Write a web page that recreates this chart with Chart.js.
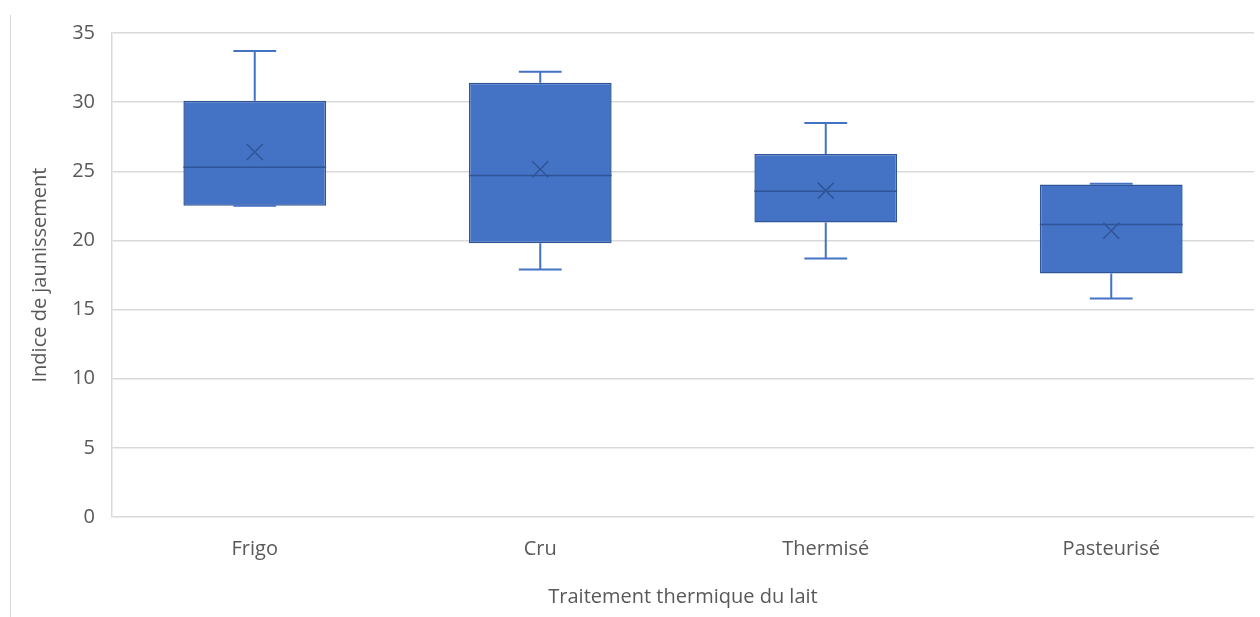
<!DOCTYPE html>
<html>
<head>
<meta charset="utf-8">
<script src="https://cdn.jsdelivr.net/npm/chart.js@4/dist/chart.umd.min.js"></script>
<style>
  html, body { margin: 0; padding: 0; background: #fff; }
  #wrap { width: 1260px; height: 617px; position: relative; }
</style>
</head>
<body>
<div id="wrap"><canvas id="myChart" width="1260" height="617"></canvas></div>
<script>
'use strict'

const categories = ['Frigo', 'Cru', 'Thermisé', 'Pasteurisé'];
const minValues = [22.5, 17.9, 18.7, 15.8];
const q1Values = [22.5, 19.8, 21.3, 17.6];
const medianValues = [25.3, 24.7, 23.55, 21.15];
const q3Values = [30.1, 31.4, 26.25, 24.05];
const maxValues = [33.7, 32.2, 28.5, 24.1];
const meanValues = [26.4, 25.15, 23.6, 20.7];

const boxFill = '#4472C4';
const darkBlue = '#2F5597';
const fontName = '"Open Sans", Lato, sans-serif';

// whiskers, median line and mean cross, placed with the chart scales
const boxExtras = {
  id: 'boxExtras',
  afterDatasetsDraw(chart) {
    const ctx = chart.ctx;
    const x = chart.scales.x;
    const y = chart.scales.y;
    const meta = chart.getDatasetMeta(0);
    ctx.save();
    for (let i = 0; i < categories.length; i++) {
      const bar = meta.data[i];
      const cx = x.getPixelForValue(i);
      const half = bar.width / 2;
      const cap = bar.width * 0.15;
      const yMin = y.getPixelForValue(minValues[i]);
      const yQ1 = y.getPixelForValue(q1Values[i]);
      const yQ3 = y.getPixelForValue(q3Values[i]);
      const yMax = y.getPixelForValue(maxValues[i]);
      const yMed = y.getPixelForValue(medianValues[i]);
      const yMean = y.getPixelForValue(meanValues[i]);

      ctx.strokeStyle = boxFill;
      ctx.lineWidth = 2;
      ctx.beginPath();
      ctx.moveTo(cx, yQ3); ctx.lineTo(cx, yMax);
      ctx.moveTo(cx - cap, yMax); ctx.lineTo(cx + cap, yMax);
      ctx.moveTo(cx, yQ1); ctx.lineTo(cx, yMin);
      ctx.moveTo(cx - cap, yMin); ctx.lineTo(cx + cap, yMin);
      ctx.stroke();

      ctx.strokeStyle = darkBlue;
      ctx.lineWidth = 1.5;
      ctx.beginPath();
      ctx.moveTo(cx - half, yMed); ctx.lineTo(cx + half, yMed);
      ctx.stroke();

      const s = 8;
      ctx.lineWidth = 1.5;
      ctx.beginPath();
      ctx.moveTo(cx - s, yMean - s); ctx.lineTo(cx + s, yMean + s);
      ctx.moveTo(cx + s, yMean - s); ctx.lineTo(cx - s, yMean + s);
      ctx.stroke();
    }
    // outer frame edge on the left
    ctx.strokeStyle = '#d9d9d9';
    ctx.lineWidth = 1;
    ctx.beginPath();
    ctx.moveTo(10.5, 15); ctx.lineTo(10.5, 617);
    ctx.stroke();
    ctx.restore();
  }
};

const boxRanges = [];
for (let i = 0; i < categories.length; i++) {
  boxRanges.push([q1Values[i], q3Values[i]]);
}

const ctx = document.getElementById('myChart').getContext('2d');
const myChart = new Chart(ctx, {
  type: 'bar',
  data: {
    labels: categories,
    datasets: [{
      data: boxRanges,
      backgroundColor: boxFill,
      borderColor: darkBlue,
      borderWidth: 1.5,
      borderSkipped: false,
      categoryPercentage: 1,
      barPercentage: 0.5
    }]
  },
  options: {
    responsive: false,
    animation: false,
    layout: { padding: { left: 22, right: 6, top: 33, bottom: 8 } },
    plugins: {
      legend: { display: false },
      tooltip: { enabled: false }
    },
    scales: {
      x: {
        grid: { display: false, drawTicks: false },
        border: { display: false },
        ticks: { color: '#595959', font: { family: fontName, size: 20 }, padding: 20 },
        title: {
          display: true,
          text: 'Traitement thermique du lait',
          color: '#595959',
          font: { family: fontName, size: 20 },
          padding: { top: 4, bottom: 0 }
        }
      },
      y: {
        min: 0,
        max: 35,
        ticks: { stepSize: 5, color: '#595959', font: { family: fontName, size: 20 }, padding: 17 },
        grid: { color: '#d9d9d9', lineWidth: 1.5, drawTicks: false },
        border: { display: true, color: '#d9d9d9', width: 1.5 },
        title: {
          display: true,
          text: 'Indice de jaunissement',
          color: '#595959',
          font: { family: fontName, size: 20 },
          padding: { top: 6, bottom: 0 }
        },
        afterFit(scale) { scale.width = 90; }
      }
    }
  },
  plugins: [boxExtras]
});
</script>
</body>
</html>
